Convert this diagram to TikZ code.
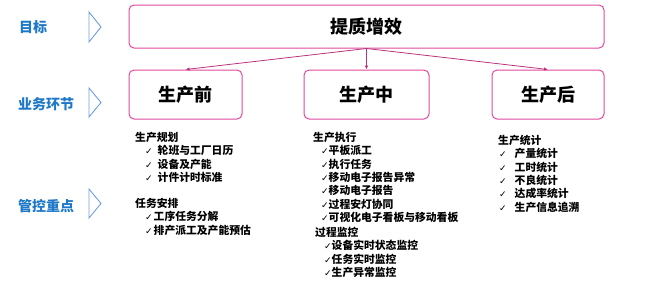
\documentclass[tikz,border=0pt]{standalone}
\usepackage{fontspec}
\setmainfont{Noto Sans CJK SC}
\newfontfamily\symfont{DejaVu Sans}
\usepackage{xcolor}
\usetikzlibrary{positioning, arrows.meta}
\definecolor{boxpink}{HTML}{E0489E}
\definecolor{arrpink}{HTML}{B8337A}
\definecolor{labblue}{HTML}{1E78C8}
\definecolor{chevblue}{HTML}{6E9EE0}
\newcommand{\chk}{{\symfont\mdseries\fontsize{9}{9}\selectfont ✓}}

\begin{document}
\begin{tikzpicture}[
      x=1pt, y=-1pt,
      stage/.style={draw=boxpink, line width=1pt, rounded corners=5pt, minimum height=49pt, font=\fontsize{18}{20}\selectfont\bfseries},
      lab/.style={anchor=west, inner sep=0pt, text=labblue, font=\fontsize{14}{16}\selectfont\bfseries},
      chev/.style={draw=chevblue, line width=0.9pt},
      arr/.style={draw=arrpink, line width=0.8pt, -{Latex[length=4pt, width=3.5pt]}},
      list/.style={anchor=north west, inner sep=0pt, align=left, font=\fontsize{10.8}{13.3}\selectfont\bfseries}
    ]
    \useasboundingbox (0,0) rectangle (647,282);

    % left column
    \node[lab] (goal-lab) at (19,27) {目标};
    \node[lab] (link-lab) at (18,104) {业务环节};
    \node[lab] (key-lab) at (18,206) {管控重点};
    \draw[chev] (89,12) -- (101,27) -- (89,42) -- cycle;
    \draw[chev] (89,88) -- (101,102.5) -- (89,117) -- cycle;
    \draw[chev] (89,189) -- (101,203.5) -- (89,218) -- cycle;

    % goal and stages
    \node[stage, minimum width=475pt, minimum height=43pt] (goal) at (366.5,26.5) {提质增效};
    \node[stage, minimum width=113pt] (pre) at (185.5,94.5) {生产前};
    \node[stage, minimum width=125pt] (mid) at (366.5,94.5) {生产中};
    \node[stage, minimum width=112pt] (post) at (548,94.5) {生产后};

    \draw[arr] (goal.south) -- (pre.north);
    \draw[arr] (goal.south) -- (mid.north);
    \draw[arr] (goal.south) -- (post.north);

    % key points
    \node[list] (plan) at (135,132) {生产规划\\
      \hspace*{10pt}\chk\hspace{5pt}轮班与工厂日历\\
      \hspace*{10pt}\chk\hspace{5pt}设备及产能\\
      \hspace*{10pt}\chk\hspace{5pt}计件计时标准};
    \node[list] (task) at (135,198) {任务安排\\
      \hspace*{10pt}\chk\hspace{1pt}工序任务分解\\
      \hspace*{10pt}\chk\hspace{1pt}排产派工及产能预估};
    \node[list] (exec) at (313,132) {生产执行\\
      \hspace*{8pt}\chk 平板派工\\
      \hspace*{8pt}\chk 执行任务\\
      \hspace*{8pt}\chk 移动电子报告异常\\
      \hspace*{8pt}\chk 移动电子报告\\
      \hspace*{8pt}\chk 过程安灯协同\\
      \hspace*{8pt}\chk 可视化电子看板与移动看板};
    \node[list] (watch) at (315,227) {过程监控\\
      \hspace*{9pt}\chk 设备实时状态监控\\
      \hspace*{9pt}\chk 任务实时监控\\
      \hspace*{9pt}\chk 生产异常监控};
    \node[list] (stats) at (498,135) {生产统计\\
      \hspace*{1pt}\chk\hspace{8pt}产量统计\\
      \hspace*{1pt}\chk\hspace{8pt}工时统计\\
      \hspace*{1pt}\chk\hspace{8pt}不良统计\\
      \hspace*{1pt}\chk\hspace{8pt}达成率统计\\
      \hspace*{1pt}\chk\hspace{8pt}生产信息追溯};
  \end{tikzpicture}
\end{document}
